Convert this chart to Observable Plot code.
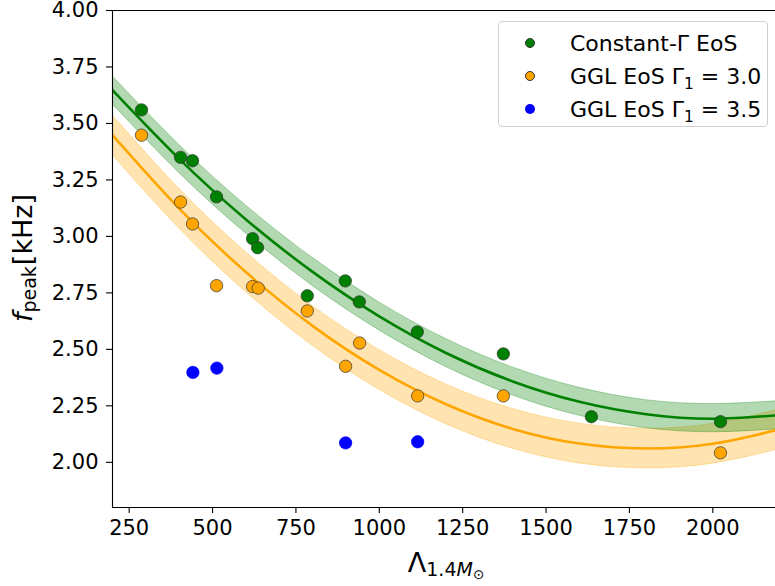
<!DOCTYPE html>
<html>
<head>
<meta charset="utf-8">
<script src="https://cdn.jsdelivr.net/npm/d3@7"></script>
<script src="https://cdn.jsdelivr.net/npm/@observablehq/plot@0.6"></script>
<style>
  html, body { margin: 0; padding: 0; background: #fff; }
  #wrap { position: relative; width: 775px; height: 586px; font-family: "DejaVu Sans", sans-serif; }
  #legend { position: absolute; left: 498px; top: 21px; width: 270px; height: 106px; box-sizing: border-box;
            border: 1px solid #d0d0d0; border-radius: 4px; background: rgba(255,255,255,0.85); }
  .row { position: absolute; left: 0; height: 30px; display: flex; align-items: center; font-size: 22px; color: #000; white-space: nowrap; }
  .mk { position: absolute; left: 26px; width: 10px; height: 10px; border-radius: 50%; box-sizing: border-box; }
  .lt { position: absolute; left: 71px; }
  sub { font-size: 70%; vertical-align: -0.3em; line-height: 0; }
</style>
</head>
<body>
<div id="wrap"></div>
<script>
// ---------- data ----------
const seriesNames = ["Constant-Γ EoS", "GGL EoS Γ1 = 3.0", "GGL EoS Γ1 = 3.5"];
const seriesColors = ["green", "orange", "blue"];

const constGammaLambda = [287, 404, 440, 512, 620, 635, 784, 898, 940, 1114, 1372, 1636, 2023];
const constGammaFpeak  = [3.56, 3.35, 3.335, 3.175, 2.99, 2.95, 2.737, 2.803, 2.71, 2.577, 2.48, 2.202, 2.18];

const ggl30Lambda = [287, 404, 440, 512, 620, 637, 784, 899, 941, 1115, 1372, 2023];
const ggl30Fpeak  = [3.448, 3.152, 3.055, 2.782, 2.778, 2.771, 2.67, 2.425, 2.528, 2.294, 2.294, 2.042];

const ggl35Lambda = [441, 513, 899, 1115];
const ggl35Fpeak  = [2.398, 2.417, 2.086, 2.091];

// fitted curves and bands
const fitLambda = [200, 400, 600, 800, 1000, 1200, 1400, 1600, 1800, 2000, 2200];
const constFit   = [3.647, 3.343, 3.075, 2.843, 2.646, 2.484, 2.358, 2.268, 2.213, 2.193, 2.209];
const constFitLo = [3.585, 3.281, 3.013, 2.781, 2.584, 2.422, 2.296, 2.206, 2.151, 2.133, 2.147];
const constFitHi = [3.709, 3.405, 3.137, 2.905, 2.708, 2.546, 2.420, 2.330, 2.275, 2.258, 2.271];
const gglFit     = [3.448, 3.123, 2.842, 2.604, 2.409, 2.257, 2.148, 2.083, 2.061, 2.082, 2.146];
const gglFitLo   = [3.360, 3.035, 2.754, 2.516, 2.321, 2.169, 2.060, 1.995, 1.973, 1.994, 2.058];
const gglFitHi   = [3.536, 3.211, 2.930, 2.692, 2.497, 2.345, 2.236, 2.171, 2.149, 2.170, 2.234];

const xTicks = [250, 500, 750, 1000, 1250, 1500, 1750, 2000];
const yTicks = [2.00, 2.25, 2.50, 2.75, 3.00, 3.25, 3.50, 3.75, 4.00];
const xDomain = [200, 2188];
const yDomain = [1.8, 4.0];

// ---------- tables ----------
const fitRows = fitLambda.map((x, i) => ({
  x, c: constFit[i], cLo: constFitLo[i], cHi: constFitHi[i],
  g: gglFit[i], gLo: gglFitLo[i], gHi: gglFitHi[i]
}));
const pts = (xs, ys) => xs.map((x, i) => ({x, y: ys[i]}));
const constPts = pts(constGammaLambda, constGammaFpeak);
const ggl30Pts = pts(ggl30Lambda, ggl30Fpeak);
const ggl35Pts = pts(ggl35Lambda, ggl35Fpeak);

const chart = Plot.plot({
  width: 775, height: 586,
  marginLeft: 112, marginRight: 0, marginTop: 10, marginBottom: 79,
  style: {fontFamily: "DejaVu Sans", fontSize: "21px", color: "black", background: "white", overflow: "visible"},
  x: {domain: xDomain},
  y: {domain: yDomain},
  marks: [
    Plot.areaY(fitRows, {x: "x", y1: "gLo", y2: "gHi", fill: seriesColors[1], fillOpacity: 0.3, stroke: seriesColors[1], strokeOpacity: 0.3, strokeWidth: 1, curve: "natural", clip: true}),
    Plot.areaY(fitRows, {x: "x", y1: "cLo", y2: "cHi", fill: seriesColors[0], fillOpacity: 0.3, stroke: seriesColors[0], strokeOpacity: 0.3, strokeWidth: 1, curve: "natural", clip: true}),
    Plot.line(fitRows, {x: "x", y: "c", stroke: seriesColors[0], strokeWidth: 2.6, curve: "natural", clip: true}),
    Plot.line(fitRows, {x: "x", y: "g", stroke: seriesColors[1], strokeWidth: 2.6, curve: "natural", clip: true}),
    Plot.dot(constPts, {x: "x", y: "y", r: 6.2, fill: seriesColors[0], stroke: "#333", strokeWidth: 0.7}),
    Plot.dot(ggl30Pts, {x: "x", y: "y", r: 6.2, fill: seriesColors[1], stroke: "#333", strokeWidth: 0.7}),
    Plot.dot(ggl35Pts, {x: "x", y: "y", r: 6.2, fill: seriesColors[2], stroke: seriesColors[2], strokeWidth: 0.7}),
    Plot.axisX({ticks: xTicks, tickSize: 6, tickPadding: 7, tickFormat: d => String(d), label: null, strokeWidth: 1.1}),
    Plot.axisY({ticks: yTicks, tickSize: 6, tickPadding: 8, tickFormat: d => d.toFixed(2), label: null, strokeWidth: 1.1}),
    Plot.ruleX([xDomain[0]], {stroke: "black", strokeWidth: 1.1}),
    Plot.ruleY([yDomain[0]], {stroke: "black", strokeWidth: 1.1}),
    Plot.ruleY([yDomain[1]], {stroke: "black", strokeWidth: 1.1})
  ]
});

const wrap = document.getElementById("wrap");
wrap.appendChild(chart);

// axis labels with sub/superscripts
const svg = d3.select(chart);
const xl = svg.append("text")
  .attr("x", 446).attr("y", 572).attr("text-anchor", "middle")
  .attr("font-family", "DejaVu Sans").attr("font-size", 27).attr("fill", "black");
xl.append("tspan").text("Λ");
xl.append("tspan").attr("font-size", 19).attr("dy", 4).text("1.4");
xl.append("tspan").attr("font-size", 19).attr("font-style", "italic").text("M");
xl.append("tspan").attr("font-size", 13.5).attr("dy", 3).text("⊙");

const yl = svg.append("text")
  .attr("transform", "translate(31.5,258) rotate(-90)").attr("text-anchor", "middle")
  .attr("font-family", "DejaVu Sans").attr("font-size", 27).attr("fill", "black");
yl.append("tspan").attr("font-style", "italic").text("f");
yl.append("tspan").attr("font-size", 19).attr("dy", 4.5).text("peak");
yl.append("tspan").attr("dy", -4.5).attr("dx", 1).text("[kHz]");

// legend
const legend = document.createElement("div");
legend.id = "legend";
const rowsTop = [6, 39, 72];
const labelsHtml = ["Constant-Γ EoS", "GGL EoS Γ<sub>1</sub> = 3.0", "GGL EoS Γ<sub>1</sub> = 3.5"];
seriesNames.forEach((name, i) => {
  const row = document.createElement("div");
  row.className = "row";
  row.style.top = rowsTop[i] + "px";
  const mk = document.createElement("div");
  mk.className = "mk";
  mk.style.background = seriesColors[i];
  mk.style.border = i < 2 ? "0.7px solid #333" : "none";
  const lt = document.createElement("div");
  lt.className = "lt";
  lt.innerHTML = labelsHtml[i];
  lt.title = name;
  row.appendChild(mk);
  row.appendChild(lt);
  legend.appendChild(row);
});
wrap.appendChild(legend);
</script>
</body>
</html>
